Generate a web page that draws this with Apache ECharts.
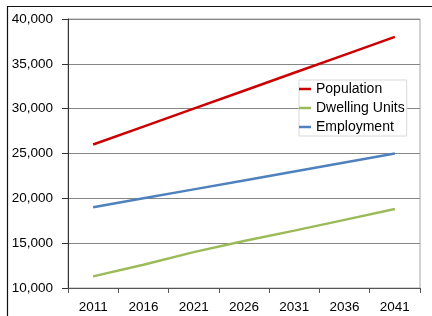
<!DOCTYPE html>
<html>
<head>
<meta charset="utf-8">
<script src="https://cdn.jsdelivr.net/npm/echarts@6/dist/echarts.min.js"></script>
<style>html,body{margin:0;padding:0;background:#fff}#c{width:432px;height:316px}</style>
</head>
<body>
<div id="c"></div>
<script>
const years = ['2011','2016','2021','2026','2031','2036','2041'];
const population = [26000, 28000, 30000, 32000, 34000, 36000, 38000];
const dwellingUnits = [11300, 12600, 14000, 15250, 16400, 17600, 18800];
const employment = [19000, 20000, 21000, 22000, 23000, 24000, 25000];
const seriesNames = ['Population', 'Dwelling Units', 'Employment'];

const font = 'Liberation Sans';
const chart = echarts.init(document.getElementById('c'), null, {renderer: 'canvas'});
chart.setOption({
  animation: false,
  backgroundColor: '#fff',
  grid: {left: 68, right: 12, top: 19, bottom: 28, show: true, borderColor: '#a6a6a6', borderWidth: 1},
  graphic: [{
    type: 'rect', silent: true, z: 100,
    shape: {x: 7.5, y: 6.5, width: 600, height: 400},
    style: {fill: 'none', stroke: '#111', lineWidth: 1.2}
  }],
  legend: {
    orient: 'vertical', left: 299, top: 80,
    data: seriesNames,
    icon: 'rect',
    itemWidth: 12, itemHeight: 2.5, itemGap: 5,
    padding: [2, 2, 2, 0],
    backgroundColor: '#fff', borderColor: '#d9d9d9', borderWidth: 1,
    textStyle: {fontFamily: font, fontSize: 14, color: '#000', lineHeight: 14}
  },
  xAxis: {
    type: 'category', data: years, boundaryGap: true,
    axisLine: {lineStyle: {color: '#555', width: 1}},
    axisTick: {show: true, length: 5, lineStyle: {color: '#555'}},
    axisLabel: {fontFamily: font, fontSize: 13.5, color: '#000', margin: 12}
  },
  yAxis: {
    type: 'value', min: 10000, max: 40000, interval: 5000,
    axisLine: {show: true, lineStyle: {color: '#333', width: 1}},
    axisTick: {show: true, length: 6, lineStyle: {color: '#333'}},
    splitLine: {lineStyle: {color: '#868686', width: 1}},
    axisLabel: {fontFamily: font, fontSize: 13.5, color: '#000', margin: 15,
      formatter: v => v.toLocaleString('en-US')}
  },
  series: [
    {name: seriesNames[0], type: 'line', data: population, symbol: 'none', color: '#cc0000', lineStyle: {width: 2.5, color: '#cc0000'}},
    {name: seriesNames[1], type: 'line', data: dwellingUnits, symbol: 'none', color: '#9bbb59', lineStyle: {width: 2.5, color: '#9bbb59'}},
    {name: seriesNames[2], type: 'line', data: employment, symbol: 'none', color: '#4f81bd', lineStyle: {width: 2.5, color: '#4f81bd'}}
  ]
});
</script>
</body>
</html>
